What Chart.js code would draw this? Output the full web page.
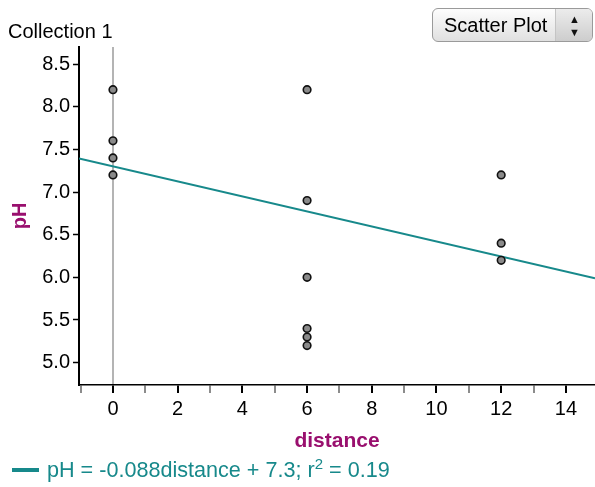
<!DOCTYPE html>
<html>
<head>
<meta charset="utf-8">
<script src="https://cdn.jsdelivr.net/npm/chart.js@4/dist/chart.umd.min.js"></script>
<style>
  html, body { margin: 0; padding: 0; background: #fff; }
  body { width: 595px; height: 487px; position: relative; overflow: hidden;
         font-family: "Liberation Sans", Arial, sans-serif; }
  #wrap { position: absolute; left: 0; top: 0; width: 595px; height: 487px; }
  #title { position: absolute; left: 8px; top: 19px; font-size: 20px; line-height: 24px; color: #000; }
  #plotType { position: absolute; left: 432px; top: 8px; width: 161px; height: 34px;
              border: 1px solid #9a9a9a; border-radius: 6px; box-sizing: border-box;
              background: linear-gradient(#fdfdfd, #e0e0e0); overflow: hidden; }
  #plotType .lbl { position: absolute; left: 11px; top: 3px; font-size: 20px; line-height: 26px; color: #000; }
  #plotType .arr { position: absolute; left: 122px; top: 0; width: 39px; height: 34px;
                   border-left: 1px solid #c4c4c4; background: linear-gradient(#ececec, #cbcbcb); }
  #plotType .arr span { position: absolute; left: 13px; font-size: 11px; line-height: 11px; color: #111; }
  #legend { position: absolute; left: 12px; top: 457px; height: 26px; }
  #legend .swatch { position: absolute; left: 0; top: 11px; width: 27px; height: 4px; background: #17898b; }
  #legend .txt { position: absolute; left: 35px; top: 0; white-space: nowrap; font-size: 21.6px;
                 line-height: 26px; color: #17898b; }
  #legend sup { font-size: 15px; line-height: 0; vertical-align: 8px; }
</style>
</head>
<body>
<div id="wrap"><canvas id="chart" width="595" height="487"></canvas></div>
<div id="title">Collection 1</div>
<div id="plotType"><div class="lbl">Scatter Plot</div><div class="arr"><span style="top:5px">&#9650;</span><span style="top:18px">&#9660;</span></div></div>
<div id="legend"><div class="swatch"></div><div class="txt" id="legendTxt"></div></div>
<script>
// DATA
const distance = [0, 0, 0, 0, 6, 6, 6, 6, 6, 6, 12, 12, 12];
const pH = [8.2, 7.6, 7.4, 7.2, 8.2, 6.9, 6.0, 5.4, 5.3, 5.2, 7.2, 6.4, 6.2];
const fitSlope = -0.088;
const fitIntercept = 7.3;
const fitR2 = 0.19;
const xRange = [-1.05, 14.9];
const yRange = [4.738, 8.70];
const xTickLabels = [0, 2, 4, 6, 8, 10, 12, 14];
const yTickLabels = [5.0, 5.5, 6.0, 6.5, 7.0, 7.5, 8.0, 8.5];

const purple = "#990f6e";
const teal = "#17898b";
const font = "'Liberation Sans', Arial, sans-serif";

document.getElementById("legendTxt").innerHTML =
  `pH = ${fitSlope}distance + ${fitIntercept}; r<sup>2</sup> = ${fitR2}`;

const points = distance.map((d, i) => ({ x: d, y: pH[i] }));
const fitLine = xRange.map(x => ({ x, y: fitIntercept + fitSlope * x }));

new Chart(document.getElementById("chart"), {
  type: "scatter",
  data: {
    datasets: [
      {
        data: points,
        pointRadius: 3.8,
        pointHoverRadius: 3.8,
        pointBackgroundColor: "#8a8a8a",
        pointBorderColor: "#111",
        pointBorderWidth: 1.6
      },
      {
        type: "line",
        data: fitLine,
        borderColor: teal,
        borderWidth: 2,
        pointRadius: 0,
        fill: false
      }
    ]
  },
  options: {
    responsive: false,
    animation: false,
    layout: { autoPadding: false, padding: { top: 47, left: 0, right: 0, bottom: 33 } },
    plugins: { legend: { display: false }, tooltip: { enabled: false } },
    scales: {
      x: {
        type: "linear",
        min: xRange[0],
        max: xRange[1],
        afterFit: s => { s.height = 69; s.paddingLeft = 0; s.paddingRight = 0; },
        ticks: {
          stepSize: 1,
          includeBounds: false,
          autoSkip: false,
          maxRotation: 0,
          padding: 4,
          color: "#000",
          font: { family: font, size: 20 },
          callback: v => xTickLabels.includes(v) ? String(v) : ""
        },
        grid: {
          drawOnChartArea: true,
          color: c => (c.tick && c.tick.value === 0) ? "#b4b4b4" : "rgba(0,0,0,0)",
          lineWidth: 2,
          tickColor: c => (c.tick && xTickLabels.includes(c.tick.value)) ? "#000" : "#8c8c8c",
          tickWidth: 2,
          tickLength: 8
        },
        border: { display: true, color: "#000", width: 1.5 },
        title: {
          display: true,
          text: "distance",
          color: purple,
          font: { family: font, size: 21, weight: "bold" },
          padding: { top: 0, bottom: 0 }
        }
      },
      y: {
        type: "linear",
        min: yRange[0],
        max: yRange[1],
        afterFit: s => { s.width = 79; },
        ticks: {
          stepSize: 0.5,
          includeBounds: false,
          padding: 3,
          color: "#000",
          font: { family: font, size: 20 },
          callback: v => yTickLabels.includes(v) ? v.toFixed(1) : ""
        },
        grid: {
          drawOnChartArea: false,
          tickColor: "#000",
          tickWidth: 1.5,
          tickLength: 6
        },
        border: { display: true, color: "#000", width: 2 },
        title: {
          display: true,
          text: "pH",
          color: purple,
          font: { family: font, size: 20, weight: "bold" },
          padding: { top: 8, bottom: 0 }
        }
      }
    }
  }
});
</script>
</body>
</html>
